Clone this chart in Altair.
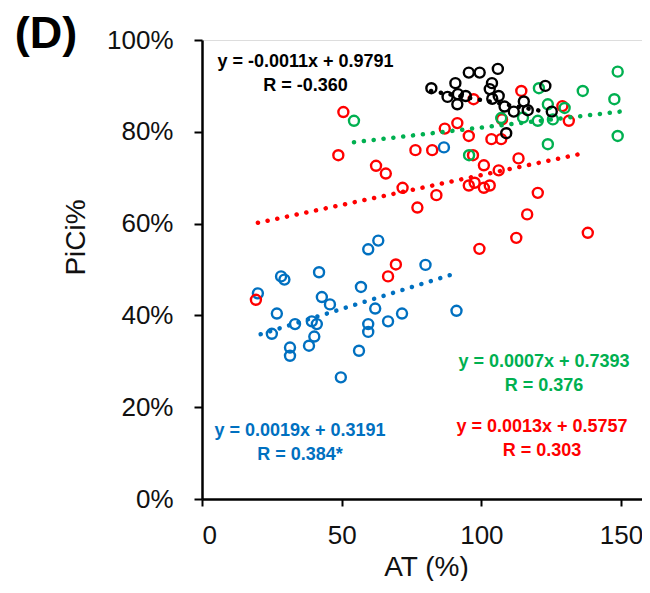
import altair as alt
import pandas as pd

# ---------------- data ----------------
blue_x = [63.1, 59.5, 80.0, 28.3, 29.5, 41.9, 20.0, 56.9, 42.9, 45.8, 26.8, 62.0, 71.6, 66.6,
          91.1, 33.3, 39.3, 41.1, 59.5, 59.5, 25.0, 40.2, 38.3, 31.5, 31.5, 56.2, 49.7, 86.6]
blue_y = [0.563, 0.544, 0.510, 0.485, 0.478, 0.494, 0.448, 0.462, 0.440, 0.424, 0.404, 0.415, 0.404, 0.387,
          0.410, 0.381, 0.387, 0.381, 0.381, 0.364, 0.360, 0.354, 0.334, 0.330, 0.312, 0.323, 0.265, 0.766]

red_x = [19.3, 50.6, 48.8, 62.3, 65.8, 71.8, 83.9, 77.1, 76.4, 82.4, 86.9, 91.4, 95.5, 103.6, 107.1,
         97.0, 100.9, 106.2, 95.5, 97.6, 100.9, 103.0, 113.3, 120.2, 116.4, 112.5, 99.3, 138.1, 69.4,
         66.6, 114.3, 97.2, 129.0, 131.3, 107.4]
red_y = [0.434, 0.843, 0.749, 0.726, 0.709, 0.678, 0.662, 0.635, 0.760, 0.760, 0.807, 0.819, 0.791, 0.784, 0.784,
         0.749, 0.727, 0.716, 0.683, 0.689, 0.678, 0.683, 0.742, 0.667, 0.620, 0.569, 0.545, 0.580, 0.511,
         0.485, 0.889, 0.871, 0.856, 0.824, 0.827]

green_x = [148.8, 147.6, 148.8, 136.3, 120.6, 123.8, 129.8, 125.6, 120.2, 114.9, 107.1, 123.8, 54.4, 95.6]
green_y = [0.931, 0.871, 0.791, 0.889, 0.895, 0.860, 0.852, 0.827, 0.824, 0.831, 0.830, 0.773, 0.824, 0.749]

black_x = [82.1, 90.7, 87.9, 91.6, 94.4, 91.4, 95.5, 99.4, 105.9, 103.8, 103.0, 103.9, 106.2, 108.3,
           111.6, 115.2, 116.6, 122.9, 125.2, 108.9]
black_y = [0.895, 0.906, 0.876, 0.882, 0.878, 0.860, 0.929, 0.929, 0.937, 0.906, 0.893, 0.872, 0.878, 0.855,
           0.844, 0.866, 0.847, 0.900, 0.844, 0.797]

groups = ["blue", "red", "green", "black"]
colors = ["#0070C0", "#FF0000", "#00B050", "#000000"]

# trendlines: equations printed on the chart, and the x-range they span
fit_slope = [0.0019, 0.0013, 0.0007, -0.0011]
fit_icpt = [0.3191, 0.5757, 0.7393, 0.9791]
fit_x0 = [21.0, 20.0, 54.4, 82.0]
fit_x1 = [91.0, 136.5, 150.0, 121.0]

eq_text = ["y = 0.0019x + 0.3191", "y = 0.0013x + 0.5757", "y = 0.0007x + 0.7393", "y = -0.0011x + 0.9791"]
r_text = ["R = 0.384*", "R = 0.303", "R = 0.376", "R = -0.360"]

# ---------------- tables ----------------
xs = [blue_x, red_x, green_x, black_x]
ys = [blue_y, red_y, green_y, black_y]
pts = pd.concat(
    [pd.DataFrame({"x": a, "y": b, "group": g}) for a, b, g in zip(xs, ys, groups)],
    ignore_index=True,
)

rows = []
for g, m, c, a, b in zip(groups, fit_slope, fit_icpt, fit_x0, fit_x1):
    rows.append({"group": g, "x": a, "y": m * a + c})
    rows.append({"group": g, "x": b, "y": m * b + c})
fits = pd.DataFrame(rows)

x_scale = alt.Scale(domain=[0, 157.5], nice=False, zero=False)
y_scale = alt.Scale(domain=[0, 1], nice=False)
c_scale = alt.Scale(domain=groups, range=colors)

x_axis = alt.Axis(values=[0, 50, 100, 150], title="AT (%)", grid=False,
                  labelFontSize=26, titleFontSize=28, labelColor="#111", titleColor="#111",
                  labelFont="Liberation Sans", titleFont="Liberation Sans", titleFontWeight="normal",
                  tickSize=7, tickWidth=2, tickColor="black", labelPadding=16,
                  domainColor="black", domainWidth=2.5,
                  titleX=224, titleY=76, titleBaseline="alphabetic")
y_axis = alt.Axis(values=[0, 0.2, 0.4, 0.6, 0.8, 1.0], format=".0%", title="PiCi%", grid=False,
                  labelFontSize=26, titleFontSize=28, labelColor="#111", titleColor="#111",
                  labelFont="Liberation Sans", titleFont="Liberation Sans", titleFontWeight="normal",
                  tickSize=8, tickWidth=2, tickColor="black", labelPadding=21,
                  domainColor="black", domainWidth=2.5,
                  titleX=-126, titleY=197, titleAngle=270, titleBaseline="middle", titleAlign="center")

points = alt.Chart(pts).mark_point(shape="circle", filled=False, size=100, strokeWidth=2.4, opacity=1).encode(
    x=alt.X("x:Q", scale=x_scale, axis=x_axis),
    y=alt.Y("y:Q", scale=y_scale, axis=y_axis),
    color=alt.Color("group:N", scale=c_scale, legend=None),
)

lines = alt.Chart(fits).mark_line(strokeWidth=4.5, strokeDash=[0.1, 9.8], strokeCap="round").encode(
    x=alt.X("x:Q", scale=x_scale),
    y=alt.Y("y:Q", scale=y_scale),
    color=alt.Color("group:N", scale=c_scale, legend=None),
    detail="group:N",
)

# annotation positions (pixels relative to plot area), one per group
ann_x = [98, 340, 342, 103.5]
ann_y = [391, 387, 322, 22]
one = pd.DataFrame({"k": [0]})
texts = []
for i in range(4):
    for j, t in enumerate([eq_text[i], r_text[i]]):
        texts.append(
            alt.Chart(one).mark_text(text=t, font="Liberation Sans", fontSize=18, fontWeight="bold",
                                     color=colors[i], align="center", baseline="middle").encode(
                x=alt.value(ann_x[i]), y=alt.value(ann_y[i] + 24 * j))
        )

panel = alt.Chart(one).mark_text(text="(D)", font="Liberation Sans", fontSize=45, fontWeight="bold",
                                 color="black", align="center", baseline="alphabetic").encode(
    x=alt.value(-156), y=alt.value(8))

chart = alt.layer(points, lines, *texts, panel).properties(
    width=440, height=459,
    autosize=alt.AutoSizeParams(type="none"),
    padding={"left": 194, "top": 32, "right": 0, "bottom": 82},
).configure_view(stroke="black", strokeWidth=2).configure(background="white")

chart.save("out.html", embed_options={"renderer": "svg", "actions": False})
